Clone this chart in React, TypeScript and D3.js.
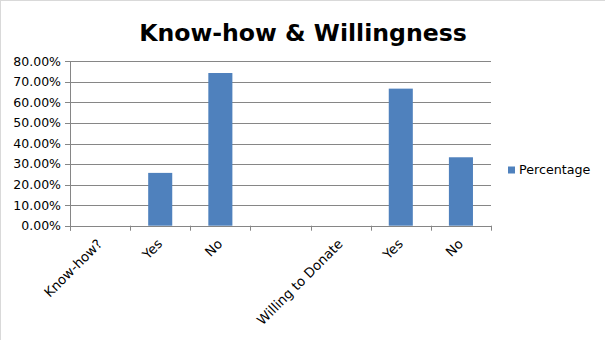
import React from "react";
import * as d3 from "d3";

const categories = ["Know-how?", "Yes", "No", "", "Willing to Donate", "Yes", "No"];
const percentages = [0, 25.7, 74.3, 0, 0, 66.7, 33.3];
const yTicks = [0, 10, 20, 30, 40, 50, 60, 70, 80];
const seriesName = "Percentage";
const title = "Know-how & Willingness";

const W = 605;
const H = 340;
const FONT = "DejaVu Sans, sans-serif";

export default function App() {
  const left = 70, right = 491, top = 61.3, bottom = 225.7;
  const x = d3.scaleBand<number>().domain(d3.range(categories.length)).range([left, right]).paddingInner(0).paddingOuter(0);
  const y = d3.scaleLinear().domain([0, 80]).range([bottom, top]);
  const bw = x.bandwidth();
  const barW = bw * 0.4;
  const fmt = (v: number) => d3.format(".2f")(v) + "%";

  return (
    <svg width={W} height={H} style={{ position: "absolute", left: 0, top: 0 }}>
      <rect x={0.5} y={0.5} width={W} height={H} fill="#fff" stroke="#d9d9d9" />
      <text x={303} y={41} textAnchor="middle" fontFamily={FONT} fontWeight="bold" fontSize={23.6} fill="#000">{title}</text>
      {yTicks.map((t) => (
        <g key={t}>
          <line x1={left - 5} x2={right} y1={Math.round(y(t)) + 0.5} y2={Math.round(y(t)) + 0.5} stroke="#868686" />
          <text x={left - 9} y={y(t)} dy="0.35em" textAnchor="end" fontFamily={FONT} fontSize={12.5} fill="#000">{fmt(t)}</text>
        </g>
      ))}
      <line x1={left + 0.5} x2={left + 0.5} y1={top} y2={bottom + 5} stroke="#868686" />
      {d3.range(categories.length + 1).map((i) => {
        const xx = Math.round(left + i * bw) + 0.5;
        return <line key={i} x1={xx} x2={xx} y1={bottom} y2={bottom + 5} stroke="#868686" />;
      })}
      {percentages.map((v, i) =>
        v > 0 ? (
          <rect key={i} x={(x(i) as number) + (bw - barW) / 2} y={y(v)} width={barW} height={y(0) - y(v)} fill="#4F81BD" />
        ) : null
      )}
      {categories.map((c, i) => {
        const cx = (x(i) as number) + bw / 2 + 3;
        const cy = bottom + 19;
        return (
          <text key={i} transform={`translate(${cx},${cy}) rotate(-45)`} textAnchor="end" fontFamily={FONT} fontSize={13.3} fill="#000">{c}</text>
        );
      })}
      <rect x={508} y={166.5} width={7} height={7} fill="#4F81BD" />
      <text x={519} y={170} dy="0.35em" fontFamily={FONT} fontSize={12.7} fill="#000">{seriesName}</text>
    </svg>
  );
}
